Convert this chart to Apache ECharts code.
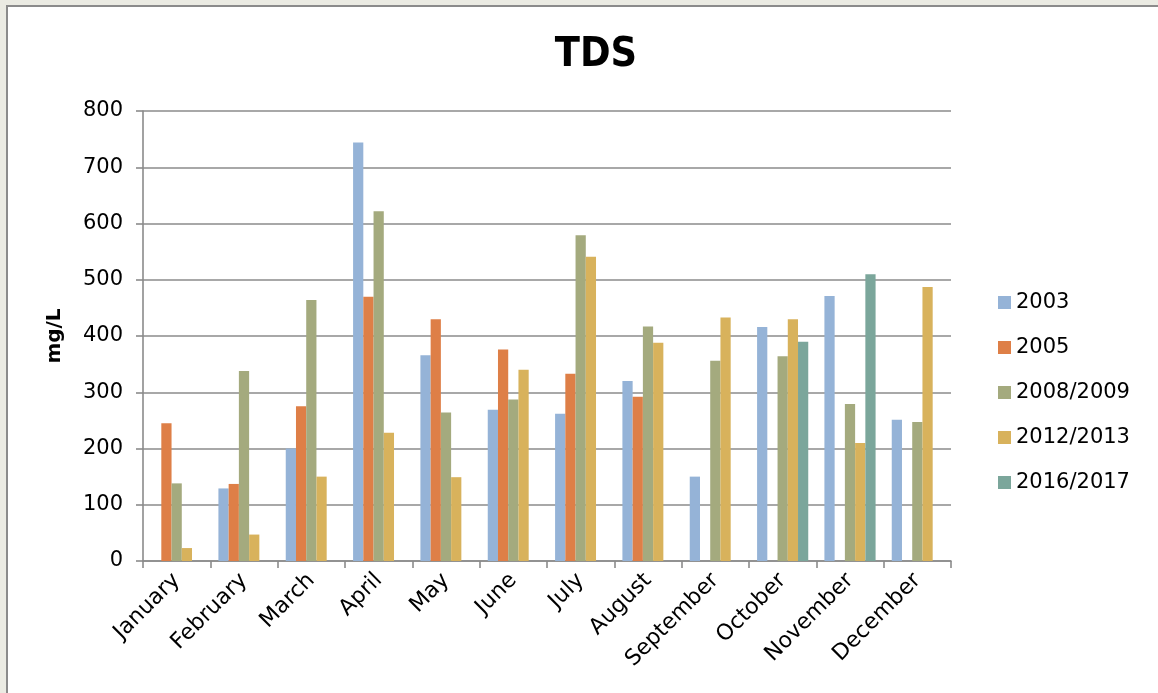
<!DOCTYPE html>
<html>
<head>
<meta charset="utf-8">
<title>TDS</title>
<script src="https://cdn.jsdelivr.net/npm/echarts@6/dist/echarts.min.js"></script>
<style>
  html, body { margin: 0; padding: 0; background: #ebebe3; width: 1158px; height: 693px; overflow: hidden; }
  #frame { position: absolute; left: 6px; top: 5px; right: 0; bottom: 0; background: #ffffff;
           border-left: 2px solid #8b8b8b; border-top: 2px solid #8b8b8b; }
  #chart { position: absolute; left: 0; top: 0; width: 1158px; height: 693px; }
</style>
</head>
<body>
<div id="frame"></div>
<div id="chart"></div>
<script>
// Monthly TDS readings (mg/L) per sampling period
const months = ['January', 'February', 'March', 'April', 'May', 'June',
                'July', 'August', 'September', 'October', 'November', 'December'];
const seriesNames = ['2003', '2005', '2008/2009', '2012/2013', '2016/2017'];
const tds2003 = [null, 129, 200, 744, 366, 269, 262, 320, 150, 416, 471, 251];
const tds2005 = [245, 137, 275, 470, 430, 376, 333, 292, null, null, null, null];
const tds2008 = [138, 338, 464, 622, 264, 287, 579, 417, 356, 364, 279, 247];
const tds2012 = [23, 47, 150, 228, 149, 340, 541, 388, 433, 430, 210, 487];
const tds2016 = [null, null, null, null, null, null, null, null, null, 390, 510, null];
const yTicks = { min: 0, max: 800, step: 100 };

const palette = ['#95b3d7', '#de7f47', '#a4aa7e', '#d8b25c', '#7ba69b'];
const values = [tds2003, tds2005, tds2008, tds2012, tds2016];
const font = 'DejaVu Sans';
const gridColor = '#8b8b8b';

const chart = echarts.init(document.getElementById('chart'), null, { renderer: 'canvas' });

chart.setOption({
  backgroundColor: 'transparent',
  animation: false,
  color: palette,
  title: {
    text: 'TDS',
    left: 591,
    top: 30,
    textAlign: 'center',
    textStyle: { fontFamily: '"Liberation Sans Narrow", "DejaVu Sans Condensed", sans-serif',
                 fontWeight: 'bold', fontSize: 41, color: '#000' }
  },
  legend: {
    orient: 'vertical',
    left: 993,
    top: 287,
    itemWidth: 13,
    itemHeight: 13,
    itemGap: 24,
    icon: 'rect',
    textStyle: { fontFamily: font, fontSize: 21, color: '#000' },
    data: seriesNames
  },
  grid: { left: 143, right: 207, top: 111, bottom: 132, containLabel: false },
  xAxis: {
    type: 'category',
    data: months,
    axisLine: { lineStyle: { color: gridColor, width: 1.6 } },
    axisTick: { show: true, length: 7, lineStyle: { color: gridColor, width: 1.6 } },
    axisLabel: { rotate: 45, margin: 16, interval: 0,
                 fontFamily: font, fontSize: 22, color: '#000' },
    splitLine: { show: false }
  },
  yAxis: {
    type: 'value',
    min: yTicks.min,
    max: yTicks.max,
    interval: yTicks.step,
    name: 'mg/L',
    nameLocation: 'middle',
    nameRotate: 90,
    nameGap: 78,
    nameTextStyle: { fontFamily: font, fontWeight: 'bold', fontSize: 20, color: '#000' },
    axisLine: { show: true, lineStyle: { color: gridColor, width: 1.6 } },
    axisTick: { show: true, length: 7, lineStyle: { color: gridColor, width: 1.6 } },
    axisLabel: { margin: 20, fontFamily: font, fontSize: 21, color: '#000' },
    splitLine: { show: true, lineStyle: { color: gridColor, width: 1.6 } }
  },
  series: seriesNames.map((name, i) => ({
    name: name,
    type: 'bar',
    data: values[i],
    barGap: '0%',
    barCategoryGap: '24%',
    itemStyle: { color: palette[i] }
  }))
});
</script>
</body>
</html>
